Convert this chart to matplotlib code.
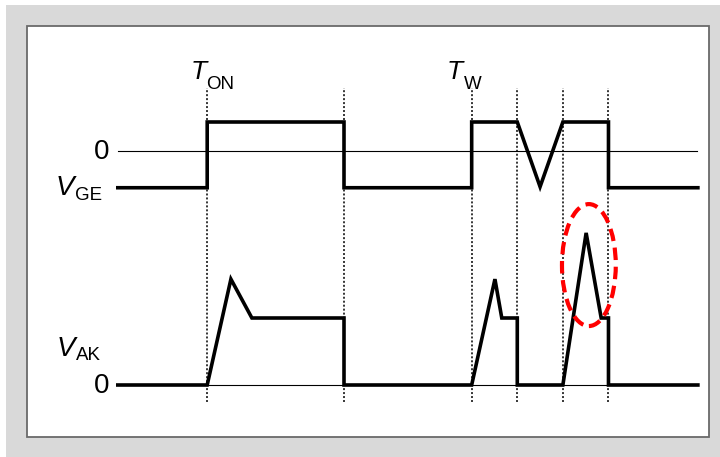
import matplotlib
matplotlib.use('Agg')
import matplotlib.pyplot as plt
from matplotlib.patches import Rectangle, Ellipse

plt.rcParams['font.family'] = ['Liberation Sans', 'DejaVu Sans']

# gate voltage V_GE (time in arbitrary units, volts)
t_ge = [0, 2.0, 2.0, 5.0, 5.0, 7.8, 7.8, 8.8, 9.3, 9.8, 10.8, 10.8, 12.8]
v_ge = [-19, -19, 15, 15, -19, -19, 15, 15, -18.5, 15, 15, -19, -19]

# anode-cathode voltage V_AK (normalised)
t_ak = [0, 2.0, 2.52, 2.98, 5.0, 5.0, 7.8, 8.31, 8.46, 8.8, 8.8,
        9.8, 10.31, 10.64, 10.8, 10.8, 12.8]
v_ak = [0, 0, 1.58, 1.0, 1.0, 0, 0, 1.58, 1.0, 1.0, 0,
        0, 2.27, 1.0, 1.0, 0, 0]

edges = [2.0, 5.0, 7.8, 8.8, 9.8, 10.8]
t_span = [0.05, 12.75]
spike = (10.37, 1.79, 1.18, 1.82)  # centre t, centre v, width, height

W, H = 720, 457
fig = plt.figure(figsize=(7.2, 4.57), dpi=100)

# background frame
fig.add_artist(Rectangle((6 / W, 0), 1 - 6 / W, 1 - 5 / H, transform=fig.transFigure,
                         facecolor='#d9d9d9', edgecolor='none', zorder=-3))
fig.add_artist(Rectangle((27 / W, 1 - 437 / H), 682 / W, 411 / H, transform=fig.transFigure,
                         facecolor='white', edgecolor='#6a6a6a', lw=1.3, zorder=-2))

X0, XS = 116, 45.6  # pixel of t=0, pixels per time unit


def panel(y_zero, px_per_unit):
    ax = fig.add_axes([0, 0, 1, 1])
    ax.patch.set_alpha(0)
    ax.set_xlim(-X0 / XS, (W - X0) / XS)
    ax.set_ylim(-(H - y_zero) / px_per_unit, y_zero / px_per_unit)
    ax.axis('off')
    return ax


ax1 = panel(151, 29 / 15)
ax2 = panel(385, 67)

lw = 2.6
ax1.plot(t_span, [0, 0], color='black', lw=0.8, zorder=1)
ax1.plot(t_ge, v_ge, color='black', lw=lw, solid_joinstyle='miter',
         solid_capstyle='butt', zorder=3)
ax2.plot(t_span, [0, 0], color='black', lw=0.8, zorder=1)
ax2.plot(t_ak, v_ak, color='black', lw=lw, solid_joinstyle='miter',
         solid_capstyle='butt', zorder=3)

for t in edges:
    ax1.axvline(t, ymin=1 - 402 / H, ymax=1 - 88 / H, color='black',
                lw=1.1, dashes=(1.3, 1.3), zorder=2)

ax2.add_patch(Ellipse(spike[:2], spike[2], spike[3], fill=False, edgecolor='#ff0000',
                      lw=3.0, linestyle=(0, (3, 1.6)), zorder=4))


def txt(x, y, s, size, style='normal', ha='left', va='baseline'):
    fig.text(x / W, 1 - y / H, s, fontsize=size, style=style, ha=ha, va=va)


txt(109, 152, '0', 20, ha='right', va='center')
txt(109, 386, '0', 20, ha='right', va='center')
txt(56, 195, 'V', 20, 'italic')
txt(75, 200, 'GE', 13.5)
txt(57, 356, 'V', 20, 'italic')
txt(76, 360, 'AK', 13.5)
txt(191, 79, 'T', 19, 'italic')
txt(206, 89, 'ON', 13.5)
txt(447, 79, 'T', 19, 'italic')
txt(464, 89, 'W', 13.5)

fig.savefig('out.png', dpi=100)
